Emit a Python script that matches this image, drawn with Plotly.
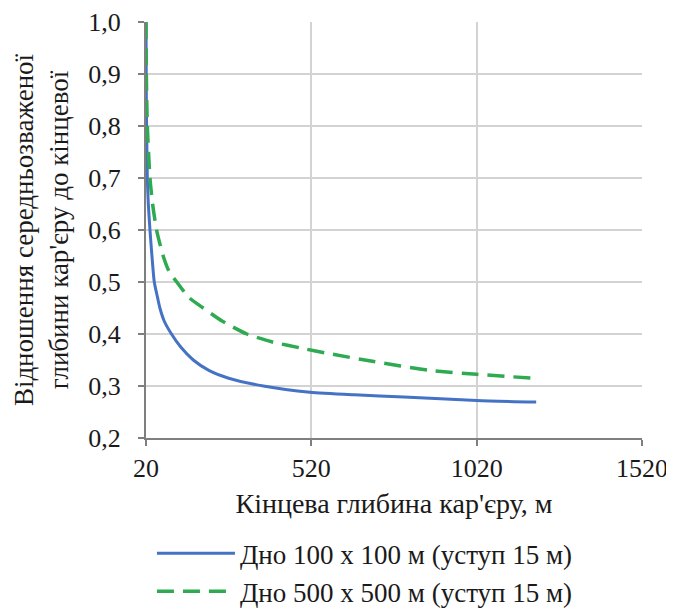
import plotly.graph_objects as go

# Blue series: bottom 100 x 100 m
x_blue = [20, 21, 24, 27, 32, 38, 45, 55, 62, 75, 97, 125, 163, 210, 270, 375, 516, 650, 800, 1020, 1200]
y_blue = [1.0, 0.85, 0.70, 0.65, 0.60, 0.55, 0.50, 0.47, 0.45, 0.425, 0.40, 0.375, 0.35, 0.33, 0.315, 0.30, 0.288, 0.283, 0.279, 0.272, 0.269]

# Green series: bottom 500 x 500 m
x_green = [20, 21, 24, 32, 40, 52, 72, 90, 113, 150, 193, 250, 325, 400, 496, 576, 700, 879, 1020, 1190]
y_green = [1.0, 0.9, 0.8, 0.7, 0.65, 0.60, 0.55, 0.52, 0.50, 0.47, 0.45, 0.425, 0.40, 0.385, 0.372, 0.362, 0.348, 0.330, 0.3225, 0.315]

x_ticks = [20, 520, 1020, 1520]
x_ticklabels = ["20", "520", "1020", "1520"]

name_blue = "Дно 100 х 100 м (уступ 15 м)"
name_green = "Дно 500 х 500 м (уступ 15 м)"

FF = "Liberation Serif"
TXT = "#1a1a1a"

fig = go.Figure()
fig.add_trace(go.Scatter(x=x_blue, y=y_blue, mode="lines", name=name_blue,
                         line=dict(color="#4472C4", width=3, shape="spline", smoothing=0.6)))
fig.add_trace(go.Scatter(x=x_green, y=y_green, mode="lines", name=name_green,
                         line=dict(color="#2EAA50", width=3.5, dash="17px,9px", shape="spline", smoothing=0.6)))

fig.update_layout(
    template="none",
    width=666, height=640,
    margin=dict(l=138, r=32, t=14, b=210, autoexpand=False),
    paper_bgcolor="white", plot_bgcolor="white",
    separators=", ",
    font=dict(family=FF, size=24, color=TXT),
    showlegend=True,
    legend=dict(orientation="v", x=0.012, xanchor="left", y=-0.219, yanchor="top",
                font=dict(family=FF, size=27, color=TXT), tracegroupgap=0, itemwidth=78,
                bgcolor="rgba(0,0,0,0)", borderwidth=0),
    xaxis=dict(range=[20, 1520], tickvals=x_ticks, ticktext=x_ticklabels,
               tickfont=dict(family=FF, size=26, color=TXT),
               showgrid=True, gridcolor="#d3d3d3", gridwidth=1.5,
               showline=True, linecolor="#7f7f7f", linewidth=2,
               ticks="outside", ticklen=6, tickcolor="#7f7f7f", tickwidth=2,
               ticklabelstandoff=0, automargin=False,
               zeroline=False,
               title=dict(text="Кінцева глибина кар'єру, м", standoff=11,
                          font=dict(family=FF, size=28, color=TXT))),
    yaxis=dict(range=[0.2, 1.0], dtick=0.1, tick0=0.2, tickformat=".1f",
               tickfont=dict(family=FF, size=26, color=TXT),
               showgrid=True, gridcolor="#d3d3d3", gridwidth=1.5,
               showline=True, linecolor="#7f7f7f", linewidth=2,
               ticks="outside", ticklen=6, tickcolor="#7f7f7f", tickwidth=2,
               ticklabelstandoff=12, automargin=False,
               zeroline=False,
               title=dict(text="Відношення середньозваженої<br>глибини кар'єру до кінцевої",
                          standoff=12, font=dict(family=FF, size=27, color=TXT))),
)

fig.write_html("out.html")
